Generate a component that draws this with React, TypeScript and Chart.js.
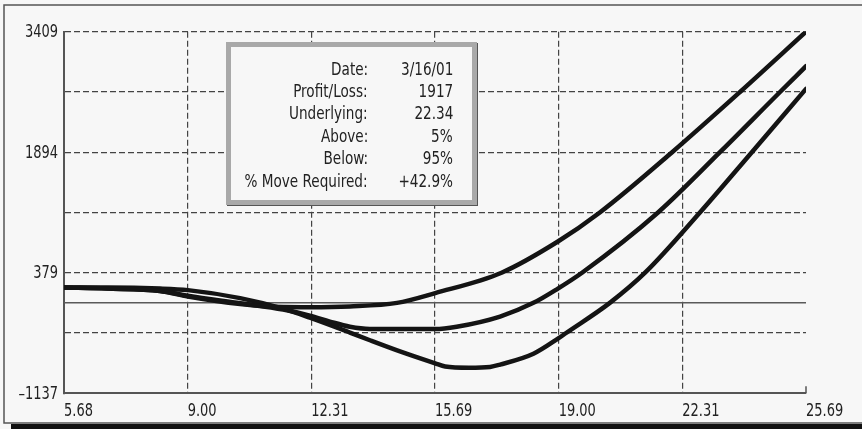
import React, { useEffect, useRef } from 'react';
import { Chart, registerables } from 'chart.js';

Chart.register(...registerables);

const FONT = "'Liberation Sans Narrow', 'DejaVu Sans Condensed', sans-serif";
const SQUEEZE = 0.85;

// Axis ranges and tick labels
const xMin = 5.68;
const xMax = 25.69;
const yMin = -1137;
const yMax = 3409;
const xTickLabels = ['5.68', '9.00', '12.31', '15.69', '19.00', '22.31', '25.69'];
const yTickLabels = ['\u20131137', '', '379', '', '1894', '', '3409'];

// Curve A (top curve at the right end)
const curveAX = [5.68, 6.84, 8.27, 9.02, 10.43, 11.59, 12.31, 13.39, 14.66, 15.69, 17.48, 19.0, 20.13, 22.08, 23.91, 25.69];
const curveAY = [192, 180, 150, 80, -15, -53, -55, -45, 0, 123, 379, 771, 1136, 1894, 2651, 3409];

// Curve B (middle curve)
const curveBX = [5.68, 6.84, 8.27, 9.02, 10.43, 11.59, 12.31, 12.85, 13.39, 13.93, 15.69, 16.27, 17.44, 18.34, 19.0, 19.65, 21.7, 23.37, 24.99, 25.69];
const curveBY = [192, 180, 150, 90, -5, -84, -160, -235, -300, -328, -330, -300, -172, 0, 180, 379, 1136, 1894, 2651, 2975];

// Curve C (deepest curve)
const curveCX = [5.68, 6.84, 8.27, 9.02, 10.43, 11.59, 12.31, 13.39, 13.93, 14.74, 15.69, 15.96, 16.6, 17.17, 17.44, 18.34, 19.0, 19.22, 20.4, 21.35, 22.83, 24.23, 25.69];
const curveCY = [192, 192, 180, 160, 60, -72, -186, -373, -470, -610, -760, -800, -815, -805, -776, -640, -450, -379, 0, 379, 1136, 1894, 2690];

// Zero reference line
const zeroLineX = [5.68, 25.69];
const zeroLineY = [0, 0];

// Info box
const infoLabels = ['Date:', 'Profit/Loss:', 'Underlying:', 'Above:', 'Below:', '% Move Required:'];
const infoValues = ['3/16/01', '1917', '22.34', '5%', '95%', '+42.9%'];

const toPoints = (xs: number[], ys: number[]) => xs.map((x, i) => ({ x, y: ys[i] }));

const framePlugin = {
  id: 'frame',
  beforeDraw(chart: any) {
    const ctx = chart.ctx;
    ctx.save();
    ctx.fillStyle = '#f7f7f7';
    ctx.fillRect(0, 0, chart.width, chart.height);
    ctx.fillStyle = '#111';
    ctx.fillRect(11, 424, chart.width - 11, 5);
    ctx.strokeStyle = '#555';
    ctx.lineWidth = 1.5;
    ctx.strokeRect(4, 5, chart.width, 418);
    ctx.restore();
  },
  afterDraw(chart: any) {
    const ctx = chart.ctx;
    const a = chart.chartArea;
    const xs = chart.scales.x;
    const ys = chart.scales.y;
    ctx.save();
    ctx.strokeStyle = '#555';
    ctx.lineWidth = 1.5;
    ctx.beginPath();
    ctx.moveTo(a.right, a.bottom);
    ctx.lineTo(a.right, a.bottom - 7);
    ctx.stroke();

    ctx.fillStyle = '#222';
    ctx.font = "17px 'DejaVu Sans Condensed', sans-serif";
    ctx.textBaseline = 'alphabetic';
    // x tick labels, left-aligned at their tick
    ctx.textAlign = 'left';
    xs.ticks.forEach((t: any, i: number) => {
      const px = xs.getPixelForValue(t.value);
      ctx.save();
      ctx.translate(px, a.bottom + 22.5);
      ctx.scale(SQUEEZE, 1);
      ctx.fillText(xTickLabels[i], 0, 0);
      ctx.restore();
    });
    // y tick labels, right-aligned left of the axis
    ctx.textAlign = 'right';
    ys.ticks.forEach((t: any, i: number) => {
      const py = ys.getPixelForValue(t.value);
      ctx.save();
      ctx.translate(a.left - 6, py + 5.7);
      ctx.scale(SQUEEZE, 1);
      ctx.fillText(yTickLabels[i], 0, 0);
      ctx.restore();
    });
    ctx.restore();
  },
};

export default function App() {
  const canvasRef = useRef<HTMLCanvasElement | null>(null);

  useEffect(() => {
    const canvas = canvasRef.current;
    if (!canvas) return;
    const curveStyle = {
      borderColor: '#141414',
      borderWidth: 4.5,
      pointRadius: 0,
      fill: false,
      cubicInterpolationMode: 'monotone' as const,
      borderCapStyle: 'round' as const,
      borderJoinStyle: 'round' as const,
    };
    const xStep = (xMax - xMin) / (xTickLabels.length - 1);
    const yStep = (yMax - yMin) / (yTickLabels.length - 1);
    const chart = new Chart(canvas, {
      type: 'line',
      data: {
        datasets: [
          { data: toPoints(curveAX, curveAY), ...curveStyle },
          { data: toPoints(curveBX, curveBY), ...curveStyle },
          { data: toPoints(curveCX, curveCY), ...curveStyle },
          {
            data: toPoints(zeroLineX, zeroLineY),
            borderColor: '#5a5a5a',
            borderWidth: 1.5,
            pointRadius: 0,
            fill: false,
          },
        ],
      },
      options: {
        responsive: false,
        animation: false,
        events: [],
        layout: { padding: { left: 0, top: 31.7, right: 56, bottom: 0 } },
        plugins: { legend: { display: false }, tooltip: { enabled: false } },
        scales: {
          x: {
            type: 'linear',
            min: xMin,
            max: xMax,
            afterBuildTicks: (scale: any) => {
              scale.ticks = xTickLabels.map((_, i) => ({ value: xMin + i * xStep }));
            },
            afterFit: (scale: any) => {
              scale.height = 35.7;
            },
            ticks: { display: false, autoSkip: false, maxRotation: 0 },
            grid: {
              drawTicks: false,
              color: (c: any) => (c.index === 0 || c.index === xTickLabels.length - 1 ? 'rgba(0,0,0,0)' : '#444'),
              lineWidth: 1.2,
            },
            border: { display: true, color: '#555', width: 2, dash: [6, 3] },
          },
          y: {
            type: 'linear',
            min: yMin,
            max: yMax,
            afterBuildTicks: (scale: any) => {
              scale.ticks = yTickLabels.map((_, i) => ({ value: yMin + i * yStep }));
            },
            afterFit: (scale: any) => {
              scale.width = 64;
            },
            ticks: { display: false, autoSkip: false },
            grid: {
              drawTicks: false,
              color: (c: any) => (c.index === 0 ? 'rgba(0,0,0,0)' : '#444'),
              lineWidth: 1.2,
            },
            border: { display: true, color: '#555', width: 2, dash: [6, 3] },
          },
        },
      },
      plugins: [framePlugin],
    } as any);
    return () => chart.destroy();
  }, []);

  const squeezed: React.CSSProperties = {
    display: 'inline-block',
    transform: 'scaleX(0.84)',
    transformOrigin: 'right center',
  };

  return (
    <div style={{ position: 'fixed', left: 0, top: 0, width: 862, height: 429, background: '#f7f7f7', overflow: 'hidden' }}>
      <canvas ref={canvasRef} width={862} height={429} style={{ display: 'block' }} />
      <div
        style={{
          position: 'absolute',
          left: 226,
          top: 42,
          width: 251,
          height: 163,
          boxSizing: 'border-box',
          border: '5px solid #a9a9a9',
          boxShadow: '1px 1px 0 #555',
          background: '#f7f7f7',
          fontFamily: FONT,
          fontSize: 18,
          color: '#222',
          lineHeight: '22.5px',
        }}
      >
        {infoLabels.map((lab, i) => (
          <React.Fragment key={lab}>
            <div style={{ position: 'absolute', right: 104, top: 10.5 + 22.46 * i, whiteSpace: 'nowrap' }}>
              <span style={squeezed}>{lab}</span>
            </div>
            <div style={{ position: 'absolute', right: 19, top: 10.5 + 22.46 * i, whiteSpace: 'nowrap' }}>
              <span style={squeezed}>{infoValues[i]}</span>
            </div>
          </React.Fragment>
        ))}
      </div>
    </div>
  );
}
